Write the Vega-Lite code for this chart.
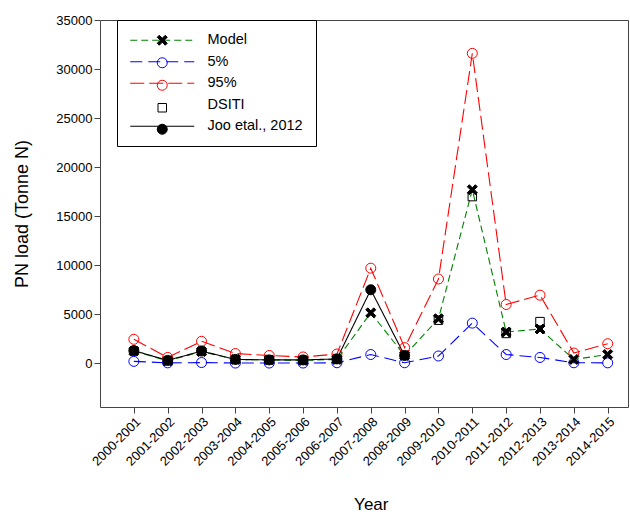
{
  "$schema": "https://vega.github.io/schema/vega-lite/v6.json",
  "width": 528,
  "height": 387,
  "autosize": {"type": "none"},
  "padding": {"left": 100, "top": 20, "right": 2, "bottom": 107},
  "background": "white",
  "config": {
    "view": {"stroke": "#444444", "strokeWidth": 1},
    "font": "Liberation Sans",
    "axis": {
      "labelFont": "Liberation Sans",
      "titleFont": "Liberation Sans",
      "labelColor": "black",
      "titleColor": "black",
      "tickColor": "#444444",
      "domain": false,
      "grid": false,
      "labelFontSize": 13,
      "titleFontSize": 17,
      "titleFontWeight": "normal",
      "tickSize": 6,
      "labelPadding": 2
    }
  },
  "data": {
    "values": [
      {"year": "2000-2001", "series": "95%", "value": 2450},
      {"year": "2001-2002", "series": "95%", "value": 600},
      {"year": "2002-2003", "series": "95%", "value": 2250},
      {"year": "2003-2004", "series": "95%", "value": 1000},
      {"year": "2004-2005", "series": "95%", "value": 800},
      {"year": "2005-2006", "series": "95%", "value": 650},
      {"year": "2006-2007", "series": "95%", "value": 950},
      {"year": "2007-2008", "series": "95%", "value": 9700},
      {"year": "2008-2009", "series": "95%", "value": 1600},
      {"year": "2009-2010", "series": "95%", "value": 8600},
      {"year": "2010-2011", "series": "95%", "value": 31600},
      {"year": "2011-2012", "series": "95%", "value": 6000},
      {"year": "2012-2013", "series": "95%", "value": 6950},
      {"year": "2013-2014", "series": "95%", "value": 1050},
      {"year": "2014-2015", "series": "95%", "value": 2000},
      {"year": "2000-2001", "series": "5%", "value": 200},
      {"year": "2001-2002", "series": "5%", "value": 50},
      {"year": "2002-2003", "series": "5%", "value": 80},
      {"year": "2003-2004", "series": "5%", "value": 30},
      {"year": "2004-2005", "series": "5%", "value": 30},
      {"year": "2005-2006", "series": "5%", "value": 30},
      {"year": "2006-2007", "series": "5%", "value": 60},
      {"year": "2007-2008", "series": "5%", "value": 900},
      {"year": "2008-2009", "series": "5%", "value": 60},
      {"year": "2009-2010", "series": "5%", "value": 750},
      {"year": "2010-2011", "series": "5%", "value": 4100},
      {"year": "2011-2012", "series": "5%", "value": 900},
      {"year": "2012-2013", "series": "5%", "value": 600},
      {"year": "2013-2014", "series": "5%", "value": 60},
      {"year": "2014-2015", "series": "5%", "value": 50},
      {"year": "2009-2010", "series": "DSITI", "value": 4400},
      {"year": "2010-2011", "series": "DSITI", "value": 17000},
      {"year": "2011-2012", "series": "DSITI", "value": 3050},
      {"year": "2012-2013", "series": "DSITI", "value": 4250},
      {"year": "2000-2001", "series": "Model", "value": 1250},
      {"year": "2001-2002", "series": "Model", "value": 250},
      {"year": "2002-2003", "series": "Model", "value": 1200},
      {"year": "2003-2004", "series": "Model", "value": 400},
      {"year": "2004-2005", "series": "Model", "value": 350},
      {"year": "2005-2006", "series": "Model", "value": 300},
      {"year": "2006-2007", "series": "Model", "value": 400},
      {"year": "2007-2008", "series": "Model", "value": 5150},
      {"year": "2008-2009", "series": "Model", "value": 800},
      {"year": "2009-2010", "series": "Model", "value": 4550},
      {"year": "2010-2011", "series": "Model", "value": 17700},
      {"year": "2011-2012", "series": "Model", "value": 3200},
      {"year": "2012-2013", "series": "Model", "value": 3500},
      {"year": "2013-2014", "series": "Model", "value": 400},
      {"year": "2014-2015", "series": "Model", "value": 900},
      {"year": "2000-2001", "series": "Joo etal., 2012", "value": 1300},
      {"year": "2001-2002", "series": "Joo etal., 2012", "value": 300},
      {"year": "2002-2003", "series": "Joo etal., 2012", "value": 1250},
      {"year": "2003-2004", "series": "Joo etal., 2012", "value": 400},
      {"year": "2004-2005", "series": "Joo etal., 2012", "value": 350},
      {"year": "2005-2006", "series": "Joo etal., 2012", "value": 350},
      {"year": "2006-2007", "series": "Joo etal., 2012", "value": 450},
      {"year": "2007-2008", "series": "Joo etal., 2012", "value": 7500},
      {"year": "2008-2009", "series": "Joo etal., 2012", "value": 800}
    ]
  },
  "encoding": {
    "x": {
      "field": "year",
      "type": "ordinal",
      "scale": {"type": "point", "range": [33.85, 507.7], "padding": 0},
      "axis": {"title": "Year", "labelAngle": -45, "titlePadding": 28}
    },
    "y": {
      "field": "value",
      "type": "quantitative",
      "scale": {"domain": [-4450, 35000], "nice": false, "zero": false},
      "axis": {"title": "PN load (Tonne N)", "values": [0, 5000, 10000, 15000, 20000, 25000, 30000, 35000], "format": "d", "titlePadding": 24, "titleFontSize": 18}
    }
  },
  "layer": [
    {
      "mark": {"type": "line", "strokeWidth": 1.1},
      "encoding": {
        "color": {
          "field": "series",
          "type": "nominal",
          "scale": {"domain": ["Model", "5%", "95%", "DSITI", "Joo etal., 2012"], "range": ["#008000", "#0000ff", "#ff0000", "transparent", "#000000"]},
          "legend": {"title": null, "orient": "none", "legendX": 17, "legendY": 0, "symbolType": "M-6.4,0H6.4", "symbolSize": 100, "symbolStrokeWidth": 1.2, "symbolOffset": 25, "labelOffset": 38, "labelFont": "Liberation Sans", "labelFontSize": 14.5, "labelColor": "black", "padding": 13, "rowPadding": 6.5, "strokeColor": "black", "fillColor": "white"}
        },
        "strokeDash": {
          "field": "series",
          "type": "nominal",
          "scale": {"domain": ["Model", "5%", "95%", "DSITI", "Joo etal., 2012"], "range": [[7, 4], [12, 6], [14, 5], [1, 0], [1, 0]]},
          "legend": {"title": null, "orient": "none", "legendX": 17, "legendY": 0, "symbolType": "M-6.4,0H6.4", "symbolSize": 100, "symbolStrokeWidth": 1.2, "symbolOffset": 25, "labelOffset": 38, "labelFont": "Liberation Sans", "labelFontSize": 14.5, "labelColor": "black", "padding": 13, "rowPadding": 6.5, "strokeColor": "black", "fillColor": "white"}
        }
      }
    },
    {
      "mark": {"type": "point", "size": 100, "strokeWidth": 1, "opacity": 1},
      "encoding": {
        "shape": {
          "field": "series",
          "type": "nominal",
          "sort": ["Model", "5%", "95%", "DSITI", "Joo etal., 2012"],
          "scale": {"range": ["M-1,-0.6L-0.4,0L-1,0.6L-0.6,1L0,0.4L0.6,1L1,0.6L0.4,0L1,-0.6L0.6,-1L0,-0.4L-0.6,-1Z", "circle", "circle", "M-0.85,-0.85H0.85V0.85H-0.85Z", "circle"]},
          "legend": {
            "title": null, "orient": "top-left", "offset": 0, "padding": 13, "symbolSize": 100, "symbolOffset": 42, "labelOpacity": 0, "labelExpr": "' '", "labelFontSize": 14.5, "labelFont": "Liberation Sans", "rowPadding": 6.5, "symbolStrokeWidth": 1, "symbolOpacity": 1,
            "symbolFillColor": {"expr": "datum.value === 'Model' || datum.value === 'Joo etal., 2012' ? 'black' : 'transparent'"},
            "symbolStrokeColor": {"expr": "datum.value === '5%' ? '#0000ff' : datum.value === '95%' ? '#ff0000' : 'black'"}
          }
        },
        "fill": {
          "field": "series",
          "type": "nominal",
          "sort": ["Model", "5%", "95%", "DSITI", "Joo etal., 2012"],
          "scale": {"range": ["black", "transparent", "transparent", "transparent", "black"]},
          "legend": null
        },
        "stroke": {
          "field": "series",
          "type": "nominal",
          "sort": ["Model", "5%", "95%", "DSITI", "Joo etal., 2012"],
          "scale": {"range": ["black", "#0000ff", "#ff0000", "black", "black"]},
          "legend": null
        }
      }
    }
  ]
}
